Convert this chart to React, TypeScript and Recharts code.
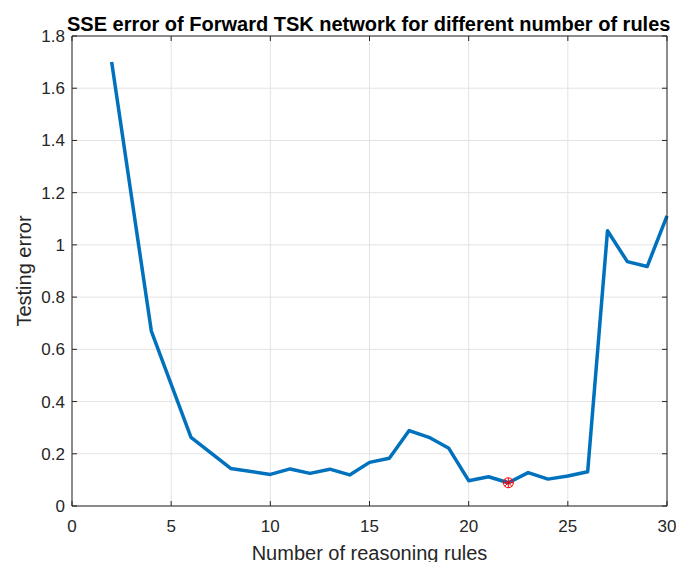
import {
  ComposedChart,
  Line,
  Scatter,
  XAxis,
  YAxis,
  CartesianGrid,
  Label,
} from "recharts";

const ruleCounts = [
  2, 4, 6, 8, 10, 11, 12, 13, 14, 15, 16, 17, 18, 19, 20, 21, 22, 23, 24, 25,
  26, 27, 28, 29, 30,
];
const testingError = [
  1.7, 0.67, 0.263, 0.144, 0.121, 0.142, 0.125, 0.141, 0.119, 0.167, 0.183,
  0.289, 0.263, 0.221, 0.097, 0.112, 0.089, 0.128, 0.103, 0.115, 0.131, 1.054,
  0.936, 0.917, 1.111,
];
const xTicks = [0, 5, 10, 15, 20, 25, 30];
const yTicks = [0, 0.2, 0.4, 0.6, 0.8, 1, 1.2, 1.4, 1.6, 1.8];

const FONT = "'Liberation Sans', Arial, Helvetica, sans-serif";
const AXIS = "#262626";

const chartData = ruleCounts.map((rules, i) => ({
  rules,
  error: testingError[i],
}));

// best (lowest error) configuration gets the red marker
const bestIdx = testingError.indexOf(Math.min(...testingError));
const bestPoint = [{ rules: ruleCounts[bestIdx], error: testingError[bestIdx] }];

function BestMarker(props: any) {
  const { cx, cy } = props;
  const r = 5;
  const d = r * 0.72;
  return (
    <g stroke="#ff0000" strokeWidth={1} fill="none">
      <circle cx={cx} cy={cy} r={r} />
      <line x1={cx - r} y1={cy} x2={cx + r} y2={cy} />
      <line x1={cx} y1={cy - r} x2={cx} y2={cy + r} />
      <line x1={cx - d} y1={cy - d} x2={cx + d} y2={cy + d} />
      <line x1={cx - d} y1={cy + d} x2={cx + d} y2={cy - d} />
    </g>
  );
}

function YTitle(props: any) {
  const { viewBox } = props;
  const x = 30.5;
  const y = viewBox.y + viewBox.height / 2;
  return (
    <text
      x={x}
      y={y}
      transform={`rotate(-90, ${x}, ${y})`}
      textAnchor="middle"
      fontFamily={FONT}
      fontSize={20}
      fill={AXIS}
    >
      Testing error
    </text>
  );
}

const noTick = () => <g />;

export default function App() {
  return (
    <div
      style={{
        position: "absolute",
        left: 0,
        top: 0,
        width: 676,
        height: 562,
        background: "#fff",
      }}
    >
      <div
        style={{
          position: "absolute",
          left: 67,
          width: 603,
          top: 14,
          textAlign: "center",
          fontFamily: FONT,
          fontSize: 20,
          fontWeight: "bold",
          color: "#000",
          whiteSpace: "nowrap",
          lineHeight: "20px",
        }}
      >
        SSE error of Forward TSK network for different number of rules
      </div>
      <ComposedChart
        width={676}
        height={562}
        data={chartData}
        margin={{ top: 35, right: 8, bottom: 0, left: 0 }}
      >
        <CartesianGrid
          xAxisId="main"
          yAxisId="main"
          stroke="#e3e3e3"
          strokeWidth={1}
        />
        <XAxis
          xAxisId="main"
          dataKey="rules"
          type="number"
          domain={[0, 30]}
          ticks={xTicks}
          height={56}
          stroke={AXIS}
          tickSize={-5}
          tickMargin={19}
          tick={{ fill: AXIS, fontSize: 17, fontFamily: FONT }}
        >
          <Label
            value="Number of reasoning rules"
            position="insideBottom"
            offset={2}
            style={{ fontFamily: FONT, fontSize: 20, fill: AXIS }}
          />
        </XAxis>
        <XAxis
          xAxisId="top"
          dataKey="rules"
          orientation="top"
          type="number"
          domain={[0, 30]}
          ticks={xTicks}
          height={1}
          stroke={AXIS}
          tickSize={-5}
          tick={noTick}
        />
        <YAxis
          yAxisId="main"
          type="number"
          domain={[0, 1.8]}
          ticks={yTicks}
          width={72}
          stroke={AXIS}
          tickSize={-5}
          tickMargin={12}
          tick={{ fill: AXIS, fontSize: 17, fontFamily: FONT }}
        >
          <Label content={YTitle} />
        </YAxis>
        <YAxis
          yAxisId="right"
          orientation="right"
          type="number"
          domain={[0, 1.8]}
          ticks={yTicks}
          width={1}
          stroke={AXIS}
          tickSize={-5}
          tick={noTick}
        />
        <Line
          xAxisId="main"
          yAxisId="main"
          dataKey="error"
          type="linear"
          stroke="#0072BD"
          strokeWidth={3.5}
          strokeLinejoin="round"
          dot={false}
          activeDot={false}
          isAnimationActive={false}
        />
        {/* same fixed domains as the main axes, so it also keeps the box axes drawn */}
        <Scatter
          xAxisId="top"
          yAxisId="right"
          data={bestPoint}
          dataKey="error"
          shape={BestMarker}
          isAnimationActive={false}
        />
      </ComposedChart>
    </div>
  );
}
